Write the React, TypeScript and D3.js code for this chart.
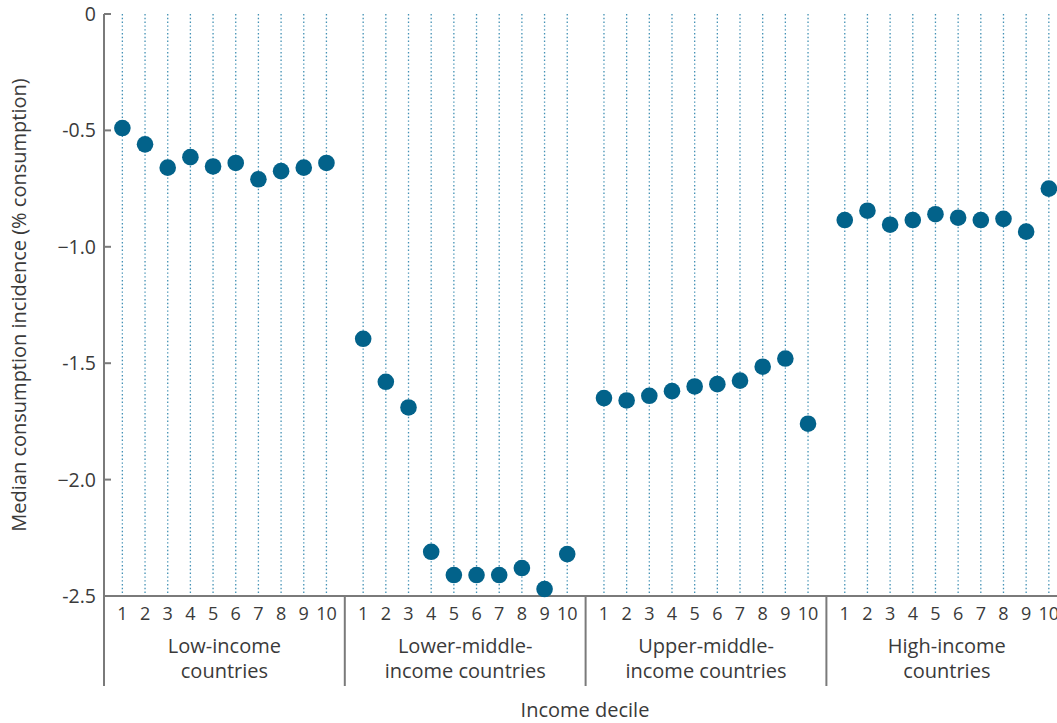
import React from "react";
import * as d3 from "d3";

const groups = ["Low-income countries", "Lower-middle-income countries", "Upper-middle-income countries", "High-income countries"];
const groupLines = [
  ["Low-income", "countries"],
  ["Lower-middle-", "income countries"],
  ["Upper-middle-", "income countries"],
  ["High-income", "countries"],
];
const deciles = [1, 2, 3, 4, 5, 6, 7, 8, 9, 10];

const lowIncome = [-0.49, -0.56, -0.66, -0.615, -0.655, -0.64, -0.71, -0.675, -0.66, -0.64];
const lowerMiddle = [-1.395, -1.58, -1.69, -2.31, -2.41, -2.41, -2.41, -2.38, -2.47, -2.32];
const upperMiddle = [-1.65, -1.66, -1.64, -1.62, -1.60, -1.59, -1.575, -1.515, -1.48, -1.76];
const highIncome = [-0.885, -0.845, -0.905, -0.885, -0.86, -0.875, -0.885, -0.88, -0.935, -0.75];
const seriesValues = [lowIncome, lowerMiddle, upperMiddle, highIncome];

const yTicks = [0, -0.5, -1.0, -1.5, -2.0, -2.5];
const yTickLabels = ["0", "-0.5", "\u22121.0", "-1.5", "\u22122.0", "-2.5"];

const W = 1057;
const H = 723;
const left = 104;
const top = 14;
const bottom = 596;
const groupW = 240.8;

const font = "'Open Sans', sans-serif";
const txt = "#3a3a3a";
const axisCol = "#7a7a7a";
const dotCol = "#02628a";

export default function App() {
  const y = d3.scaleLinear().domain([0, -2.5]).range([top, bottom]);
  const gx = d3.scaleBand<string>().domain(groups).range([left, left + groupW * groups.length]);
  const dx = d3.scalePoint<number>().domain(deciles).range([0, groupW]).padding(0.81);

  return (
    <svg width={W} height={H} style={{ position: "absolute", left: 0, top: 0 }} fontFamily={font}>
      {/* dotted guides */}
      {groups.map(g =>
        deciles.map(d => (
          <line key={g + d} x1={gx(g)! + dx(d)!} x2={gx(g)! + dx(d)!} y1={top} y2={bottom}
            stroke="#2f86ad" strokeWidth={1.3} strokeDasharray="1.4 2.4" opacity={0.9} />
        ))
      )}
      {/* y axis */}
      <line x1={left} x2={left} y1={top} y2={bottom} stroke={axisCol} strokeWidth={2} />
      {yTicks.map((t, i) => (
        <g key={t} transform={`translate(0,${y(t)})`}>
          <line x1={left} x2={left + 7} stroke={axisCol} strokeWidth={2} />
          <text x={left - 8} dy="0.36em" textAnchor="end" fontSize={19.5} fill={txt}>{yTickLabels[i]}</text>
        </g>
      ))}
      <text transform={`translate(26,305) rotate(-90)`} textAnchor="middle" fontSize={20} fill={txt}>
        Median consumption incidence (% consumption)
      </text>
      {/* x axis */}
      <line x1={left - 1} x2={W} y1={bottom} y2={bottom} stroke={axisCol} strokeWidth={2} />
      {groups.map((g, gi) => (
        <g key={g}>
          <line x1={gx(g)!} x2={gx(g)!} y1={bottom} y2={686} stroke={axisCol} strokeWidth={2} />
          {deciles.map(d => (
            <text key={d} x={gx(g)! + dx(d)!} y={620} textAnchor="middle" fontSize={18} fill={txt}>{d}</text>
          ))}
          {groupLines[gi].map((l, li) => (
            <text key={li} x={gx(g)! + gx.bandwidth() / 2} y={653 + li * 25} textAnchor="middle" fontSize={20} fill={txt}>{l}</text>
          ))}
        </g>
      ))}
      <text x={585} y={717} textAnchor="middle" fontSize={20} fill={txt}>Income decile</text>
      {/* dots */}
      {groups.map((g, gi) =>
        seriesValues[gi].map((v, i) => (
          <circle key={g + i} cx={gx(g)! + dx(deciles[i])!} cy={y(v)} r={8.3} fill={dotCol} />
        ))
      )}
    </svg>
  );
}
